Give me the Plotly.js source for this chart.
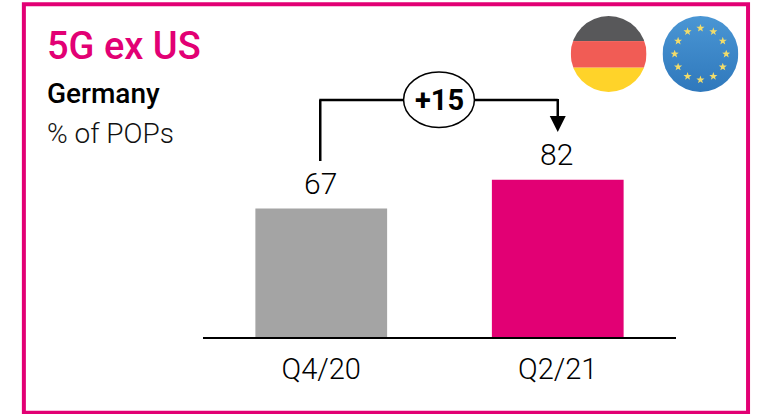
<!DOCTYPE html>
<html>
<head>
<meta charset="utf-8">
<script src="https://cdn.plot.ly/plotly-3.0.1.min.js"></script>
<style>html,body{margin:0;padding:0;background:#fff;overflow:hidden}</style>
</head>
<body>
<div id="chart" style="width:759px;height:414px"></div>
<script>
const categories = ["Q4/20", "Q2/21"];
const values = [67, 82];
const barColors = ["#a4a4a4", "#e20074"];
const titleText = "5G ex US";
const subtitleText = "Germany";
const unitText = "% of POPs";
const deltaText = "+15";

const W = 759, H = 414, L = 202.5, R = 82.5, T = 11, B = 77;
const px = x => (x - L) / (W - L - R);
const py = y => (H - B - y) / (H - T - B);
const FONT = "Roboto, 'Liberation Sans', sans-serif";
const MAGENTA = "#e20074";

function stars() {
  let s = "";
  for (let i = 0; i < 12; i++) {
    const a = i * Math.PI / 6;
    const cx = 50 + 34 * Math.sin(a), cy = 50 - 34 * Math.cos(a);
    let p = "";
    for (let k = 0; k < 10; k++) {
      const r = k % 2 ? 2.3 : 5.6, b = k * Math.PI / 5;
      p += (cx + r * Math.sin(b)).toFixed(2) + "," + (cy - r * Math.cos(b)).toFixed(2) + " ";
    }
    s += `<polygon points='${p}' fill='#f2dc6a'/>`;
  }
  return s;
}
const svgUri = body => "data:image/svg+xml;utf8," + encodeURIComponent(
  `<svg xmlns='http://www.w3.org/2000/svg' width='100' height='100' viewBox='0 0 100 100'>${body}</svg>`);
const deFlag = svgUri(
  "<clipPath id='c'><circle cx='50' cy='50' r='50'/></clipPath><g clip-path='url(#c)'>" +
  "<rect width='100' height='33' fill='#58585a'/><rect y='33' width='100' height='35' fill='#f15c55'/>" +
  "<rect y='68' width='100' height='32' fill='#ffd329'/></g>");
const euFlag = svgUri(
  "<defs><linearGradient id='g' x1='0' y1='0' x2='0' y2='1'><stop offset='0' stop-color='#4a96d4'/>" +
  "<stop offset='1' stop-color='#2f78bc'/></linearGradient></defs><circle cx='50' cy='50' r='50' fill='url(#g)'/>" + stars());

function flagImage(src, x) {
  return {source: src, xref: "paper", yref: "paper", x: px(x), y: py(16),
    sizex: 76 / (W - L - R), sizey: 76 / (H - T - B), xanchor: "left", yanchor: "top", sizing: "stretch", layer: "above"};
}

const line = (x0, y0, x1, y1) => ({type: "line", xref: "paper", yref: "paper",
  x0: px(x0), y0: py(y0), x1: px(x1), y1: py(y1), line: {color: "#000", width: 2.5}});

const shapes = [
  {type: "rect", xref: "paper", yref: "paper", x0: px(23), x1: px(748.7), y0: py(4.3), y1: py(412.7),
    line: {color: MAGENTA, width: 4}, fillcolor: "rgba(0,0,0,0)"},
  line(320, 161, 320, 100),
  line(319, 100, 404, 100),
  line(474, 100, 558, 100),
  line(558, 99, 558, 118),
  {type: "path", xref: "paper", yref: "paper",
    path: `M ${px(550)} ${py(116)} L ${px(566)} ${py(116)} L ${px(558)} ${py(132)} Z`,
    fillcolor: "#000", line: {color: "#000", width: 0}},
  {type: "circle", xref: "paper", yref: "paper", x0: px(403.5), x1: px(474.5), y0: py(72), y1: py(127.5),
    fillcolor: "#fff", line: {color: "#000", width: 1.5}}
];

const txt = (text, x, y, size, color, weight) => ({text, xref: "paper", yref: "paper", x: px(x), y: py(y),
  xanchor: "left", yanchor: "middle", showarrow: false, borderpad: 0,
  font: {family: FONT, size, color, weight}});

const annotations = [
  txt(titleText, 45, 46, 38, MAGENTA, 500),
  txt(subtitleText, 45, 93, 28, "#000", 500),
  txt(unitText, 45, 133, 28, "#111", 300),
  Object.assign(txt(deltaText, 439, 100, 29, "#000", 700), {xanchor: "center"})
].concat(categories.map((c, i) => ({
  x: c, y: values[i], xref: "x", yref: "y", text: String(values[i]), showarrow: false,
  yanchor: "bottom", yshift: 6, xshift: -1, font: {family: FONT, size: 30, color: "#000", weight: 300}
})));

Plotly.newPlot("chart", [{
  type: "bar", x: categories, y: values, width: 0.557,
  marker: {color: barColors, line: {width: 0}}, hoverinfo: "skip"
}], {
  width: W, height: H,
  margin: {l: L, r: R, t: T, b: B, pad: 0},
  paper_bgcolor: "#fff", plot_bgcolor: "#fff",
  showlegend: false,
  xaxis: {type: "category", range: [-0.5, 1.5], showline: true, linecolor: "#000", linewidth: 2,
    ticks: "", ticklabelstandoff: 5, showgrid: false, zeroline: false,
    tickfont: {family: FONT, size: 29, color: "#000", weight: 300}},
  yaxis: {range: [0, 170], visible: false, fixedrange: true},
  shapes, annotations,
  images: [flagImage(deFlag, 571), flagImage(euFlag, 663)]
}, {displayModeBar: false, staticPlot: true});
</script>
</body>
</html>
